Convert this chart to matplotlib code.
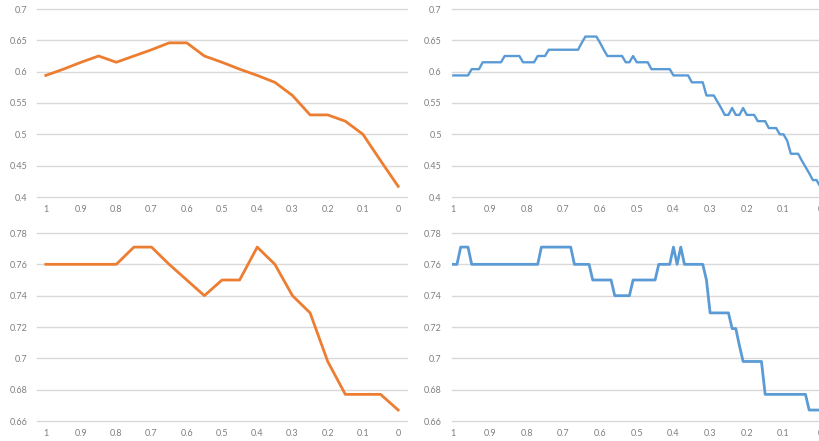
import matplotlib
matplotlib.use("Agg")
import matplotlib.pyplot as plt

plt.rcParams['font.family'] = ['Lato', 'DejaVu Sans']

# category labels (x axis runs from 1 down to 0)
cats_coarse = ["1", "0.95", "0.9", "0.85", "0.8", "0.75", "0.7", "0.65", "0.6", "0.55", "0.5",
               "0.45", "0.4", "0.35", "0.3", "0.25", "0.2", "0.15", "0.1", "0.05", "0"]
cats_fine = [f"{(100 - i) / 100:g}" for i in range(101)]

# top-left: coarse steps
top_coarse = [0.594, 0.604, 0.615, 0.625, 0.615, 0.625, 0.635, 0.646, 0.646, 0.625, 0.615,
              0.604, 0.594, 0.583, 0.562, 0.531, 0.531, 0.521, 0.500, 0.458, 0.417]

# bottom-left: coarse steps
bottom_coarse = [0.760, 0.760, 0.760, 0.760, 0.760, 0.771, 0.771, 0.760, 0.750, 0.740, 0.750,
                 0.750, 0.771, 0.760, 0.740, 0.729, 0.698, 0.677, 0.677, 0.677, 0.667]

# top-right: fine steps
top_fine = [0.594, 0.594, 0.594, 0.594, 0.594, 0.604, 0.604, 0.604, 0.615, 0.615,
            0.615, 0.615, 0.615, 0.615, 0.625, 0.625, 0.625, 0.625, 0.625, 0.615,
            0.615, 0.615, 0.615, 0.625, 0.625, 0.625, 0.635, 0.635, 0.635, 0.635,
            0.635, 0.635, 0.635, 0.635, 0.635, 0.646, 0.656, 0.656, 0.656, 0.656,
            0.646, 0.635, 0.625, 0.625, 0.625, 0.625, 0.625, 0.615, 0.615, 0.625,
            0.615, 0.615, 0.615, 0.615, 0.604, 0.604, 0.604, 0.604, 0.604, 0.604,
            0.594, 0.594, 0.594, 0.594, 0.594, 0.583, 0.583, 0.583, 0.583, 0.562,
            0.562, 0.562, 0.552, 0.542, 0.531, 0.531, 0.542, 0.531, 0.531, 0.542,
            0.531, 0.531, 0.531, 0.521, 0.521, 0.521, 0.510, 0.510, 0.510, 0.500,
            0.500, 0.490, 0.469, 0.469, 0.469, 0.458, 0.448, 0.438, 0.427, 0.427,
            0.417]

# bottom-right: fine steps
bottom_fine = [0.760, 0.760, 0.771, 0.771, 0.771, 0.760, 0.760, 0.760, 0.760, 0.760,
               0.760, 0.760, 0.760, 0.760, 0.760, 0.760, 0.760, 0.760, 0.760, 0.760,
               0.760, 0.760, 0.760, 0.760, 0.771, 0.771, 0.771, 0.771, 0.771, 0.771,
               0.771, 0.771, 0.771, 0.760, 0.760, 0.760, 0.760, 0.760, 0.750, 0.750,
               0.750, 0.750, 0.750, 0.750, 0.740, 0.740, 0.740, 0.740, 0.740, 0.750,
               0.750, 0.750, 0.750, 0.750, 0.750, 0.750, 0.760, 0.760, 0.760, 0.760,
               0.771, 0.760, 0.771, 0.760, 0.760, 0.760, 0.760, 0.760, 0.760, 0.750,
               0.729, 0.729, 0.729, 0.729, 0.729, 0.729, 0.719, 0.719, 0.708, 0.698,
               0.698, 0.698, 0.698, 0.698, 0.698, 0.677, 0.677, 0.677, 0.677, 0.677,
               0.677, 0.677, 0.677, 0.677, 0.677, 0.677, 0.677, 0.667, 0.667, 0.667,
               0.667]

top_yticks = [0.4, 0.45, 0.5, 0.55, 0.6, 0.65, 0.7]
bottom_yticks = [0.66, 0.68, 0.7, 0.72, 0.74, 0.76, 0.78]

ORANGE = "#ED7D31"
BLUE = "#5B9BD5"


def setup(ax, cats, yticks, step):
    ax.set_xlim(-0.5, len(cats) - 0.5)
    ax.set_ylim(yticks[0], yticks[-1])
    ax.set_yticks(yticks)
    ax.set_yticklabels([f"{t:g}" for t in yticks])
    ax.set_xticks(range(0, len(cats), step))
    ax.set_xticklabels(cats[::step])
    ax.grid(axis='y', color='#D9D9D9', lw=1)
    ax.set_axisbelow(True)
    for s in ax.spines.values():
        s.set_visible(False)
    ax.tick_params(axis='both', length=0, labelsize=6.5, labelcolor='#7F7F7F')
    ax.tick_params(axis='y', pad=7)
    ax.tick_params(axis='x', pad=6)
    for gl in ax.get_ygridlines():
        gl.set_clip_on(False)


fig = plt.figure(figsize=(8.2, 4.41), dpi=100)
W, H = 820, 441

ax_tl = fig.add_axes([37 / W, 244 / H, 370 / W, 188 / H])
ax_bl = fig.add_axes([37 / W, 20 / H, 370 / W, 188 / H])
ax_tr = fig.add_axes([451.5 / W, 244 / H, 370.5 / W, 188 / H])
ax_br = fig.add_axes([451.5 / W, 20 / H, 370.5 / W, 188 / H])

ax_tl.plot(range(len(top_coarse)), top_coarse, color=ORANGE, lw=2)
ax_bl.plot(range(len(bottom_coarse)), bottom_coarse, color=ORANGE, lw=2)
ax_tr.plot(range(len(top_fine)), top_fine, color=BLUE, lw=1.7)
ax_br.plot(range(len(bottom_fine)), bottom_fine, color=BLUE, lw=2)

setup(ax_tl, cats_coarse, top_yticks, 2)
setup(ax_bl, cats_coarse, bottom_yticks, 2)
setup(ax_tr, cats_fine, top_yticks, 10)
setup(ax_br, cats_fine, bottom_yticks, 10)

fig.savefig("out.png", dpi=100)
